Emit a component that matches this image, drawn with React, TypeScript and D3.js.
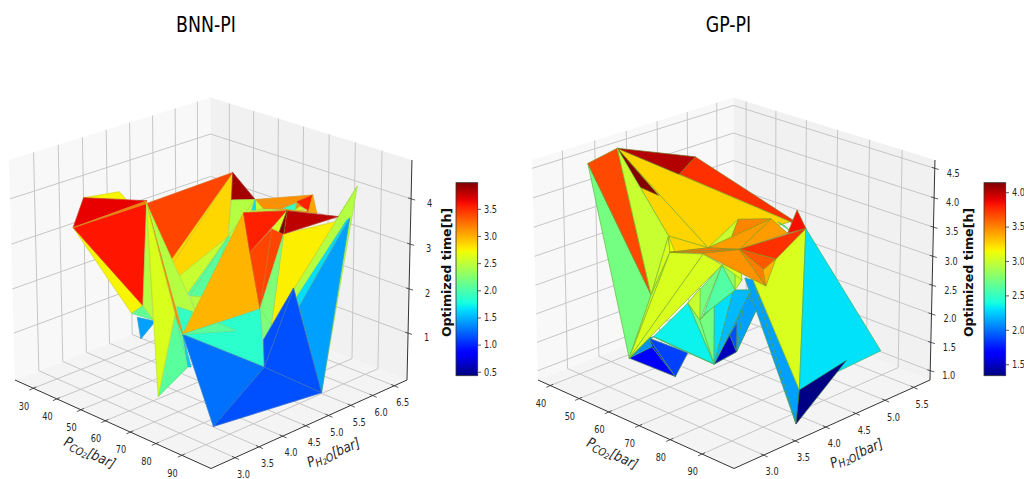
import React from "react";
import * as d3 from "d3";

// BNN-PI surface vertices
const bnnX=[37.9,25.0,7.0,13.3,35.9,42.8,50.5,53.5,65.6,73.2,34.3,70.7,64.4,53.6,66.1,47.8,63.4,65.2,76.0,83.3,58.1,90.2,96.7,108.9,110.7,61.9,90.3,82.2,87.2,92.1,76.7,90.7,66.1,50.1,55.0,55.7,62.2,59.6,55.1,42.3,31.7,30.9,62.7,68.4,65.8,53.9,57.2,42.6,33.8,34.2,75.6,91.2,80.1,60.5,87.8,78.3,72.0,97.8,54.3,46.9,49.8,73.7,74.8,90.7,84.3,84.6,91.3,66.3,71.9,68.4,55.4,59.0];
const bnnY=[3.01,3.86,5.52,5.35,4.64,6.17,6.25,5.55,2.79,2.63,4.73,3.01,3.68,5.47,3.92,5.88,4.11,4.40,3.54,2.90,5.56,4.12,3.85,2.13,4.26,6.49,4.19,3.69,3.78,1.94,3.09,2.61,3.20,3.69,3.51,3.78,6.90,6.76,6.51,6.89,7.32,7.28,6.50,6.63,6.59,7.09,7.06,7.64,8.18,7.83,5.53,5.75,5.20,6.07,4.66,4.57,6.85,3.93,8.44,8.72,8.47,5.88,5.87,4.60,2.73,2.89,2.64,3.68,3.71,2.92,5.63,3.07];
const bnnZ=[3.5,3.6,2.8,2.8,3.4,3.7,3.2,3.5,2.3,2.7,3.4,3.0,2.6,2.7,2.3,2.4,2.1,2.0,2.3,2.2,3.3,2.4,1.4,1.2,1.0,1.3,1.7,2.1,2.0,1.5,2.4,1.8,2.0,1.5,1.2,1.5,3.3,3.0,3.0,2.6,2.2,2.2,3.3,3.1,3.1,2.8,2.8,2.3,2.1,2.1,3.7,3.8,3.4,2.8,3.8,3.2,2.9,2.3,2.8,1.8,1.9,1.6,1.4,2.3,2.6,1.9,1.8,2.1,2.1,2.47,2.6,2.6];
const bnnTriangles=[[5,71,69],[5,69,13],[1,2,3],[0,8,9],[33,34,35],[8,9,32],[0,1,10],[0,4,9],[0,10,4],[4,5,11],[6,5,7],[39,37,50],[39,40,50],[40,50,20],[47,44,50],[44,43,50],[6,36,37],[6,37,39],[7,6,13],[6,13,70],[6,39,40],[6,40,41],[36,42,44],[36,43,44],[45,46,47],[48,47,49],[13,14,16],[13,12,14],[13,16,17],[13,17,15],[16,17,18],[4,19,18],[67,68,19],[30,19,31],[4,19,64],[30,31,29],[4,9,32],[4,30,29],[19,31,66],[20,19,21],[20,50,55],[55,53,21],[53,52,21],[51,56,58],[58,56,63],[58,63,24],[60,61,62],[60,62,59],[59,62,24],[52,56,57],[50,51,52],[50,53,52],[50,54,52],[52,21,57],[21,57,26],[19,21,22],[19,22,23],[25,24,22],[25,26,22],[22,24,23],[19,27,28]];
const bnnFacets=[2.86,2.86,2.75,2.75,1.44,2.1,3.67,3.59,3.2,3.41,3.88,3.13,2.54,2.54,3.05,3.05,3.13,3.13,2.46,2.46,2.54,1.66,3.55,3.05,2.6,1.9,2.07,2.54,2.07,2.07,2.46,2.46,1.9,2.07,3.15,2.07,2.46,2.62,1.6,2.99,3.55,3.41,3.41,2.46,2.46,2.46,1.66,1.66,1.44,2.77,3.8,2.6,3.99,2.23,2.23,1.86,1.27,1.16,1.16,1.16,2.07];

// GP-PI surface vertices
const gpX=[6.1,24.0,27.1,39.1,49.0,41.5,64.7,78.1,48.0,55.7,65.0,62.3,67.4,76.5,78.3,87.7,83.1,69.5,66.4,71.8,61.1,61.9,82.2,71.9,60.9,61.6,69.4,73.7,66.6,65.4,69.6,67.5,70.4,71.9,65.7,62.4,62.8,74.2,68.7,69.6,73.8,66.4,69.7,74.2,76.0,113.3,101.2,90.8,103.6,66.5,60.6,62.1,62.7,51.9,65.8,64.4,80.7,83.5,58.8,66.0];
const gpY=[4.71,4.39,5.55,4.69,3.88,3.92,5.54,4.67,4.08,3.73,3.89,4.52,4.80,4.60,3.72,3.66,4.06,4.04,3.72,4.89,3.17,2.78,3.12,3.02,3.18,3.10,3.14,3.13,2.94,3.54,3.88,4.20,3.54,3.41,3.95,4.43,4.70,3.88,4.05,4.12,4.24,4.42,4.09,3.97,4.06,2.84,4.83,4.83,3.31,4.41,3.20,2.94,5.29,5.73,5.21,3.84,3.98,3.86,3.66,3.71];
const gpZ=[3.3,4.0,3.5,3.7,3.8,3.8,2.9,3.8,3.0,3.0,3.2,3.4,3.4,3.4,3.5,3.1,3.3,3.4,3.2,3.4,2.6,1.7,1.9,1.5,1.7,1.9,1.9,1.9,2.1,2.4,3.0,2.4,2.3,2.3,2.2,2.2,2.1,1.6,1.7,1.9,2.2,2.2,2.8,2.8,2.8,2.3,1.8,1.4,1.3,2.5,2.3,2.1,3.0,2.7,3.0,3.1,3.1,3.2,3.1,2.6];
const gpTriangles=[[0,21,20],[0,1,20],[2,6,3],[1,8,10],[1,10,19],[1,2,3],[1,4,5],[1,8,20],[8,9,20],[9,20,21],[21,23,24],[24,25,23],[25,27,23],[21,25,24],[21,25,28],[22,36,37],[37,40,36],[37,40,41],[37,39,41],[22,37,38],[37,38,39],[49,44,48],[44,45,48],[29,22,33],[33,34,22],[28,29,22],[28,22,26],[22,34,35],[22,35,36],[32,33,34],[32,34,35],[32,35,31],[30,31,32],[30,42,31],[42,43,31],[29,30,33],[29,59,33],[21,50,51],[21,9,55],[21,55,30],[30,14,43],[6,15,44],[6,44,45],[6,45,46],[45,47,48],[8,10,9],[8,9,58],[11,17,10],[11,12,17],[12,13,14],[12,14,10],[53,52,54],[7,6,13],[9,10,14],[6,16,14],[14,15,18],[9,14,18],[14,57,15],[14,16,57],[16,15,56]];
const gpFacets=[2.72,3.68,3.75,3.26,3.26,4.02,4.14,3.0,3.06,3.0,1.65,1.8,1.87,2.09,2.09,2.13,2.13,2.13,2.13,1.49,1.91,2.13,2.13,2.72,2.72,2.36,2.36,2.3,2.2,2.72,2.6,2.6,2.6,2.8,3.0,2.72,3.0,2.36,3.06,3.06,3.06,3.06,3.06,2.31,1.35,3.26,3.15,3.0,3.5,3.43,3.43,2.53,3.85,3.55,3.75,3.46,3.55,3.52,3.63,3.36];

const bnnXTicks=[30,40,50,60,70,80,90], bnnYTicks=[3,3.5,4,4.5,5,5.5,6,6.5], bnnZTicks=[1,2,3,4], bnnBarTicks=[.5,1,1.5,2,2.5,3,3.5];
const gpXTicks=[40,50,60,70,80,90], gpYTicks=[3,3.5,4,4.5,5,5.5], gpZTicks=[1,1.5,2,2.5,3,3.5,4,4.5], gpBarTicks=[1.5,2,2.5,3,3.5,4];

const jetR = d3.scaleLinear<number>().domain([0,.35,.66,.89,1]).range([0,0,1,1,.5]).clamp(true);
const jetG = d3.scaleLinear<number>().domain([0,.125,.375,.64,.91,1]).range([0,0,1,1,0,0]).clamp(true);
const jetB = d3.scaleLinear<number>().domain([0,.11,.34,.65,1]).range([.5,1,1,0,0]).clamp(true);
const jet = (t:number)=>`rgb(${Math.round(255*jetR(t))},${Math.round(255*jetG(t))},${Math.round(255*jetB(t))})`;

const SQ=.82;
const k=.075,dw=-.0272,x0=15,y0=380,x1=180.2,x2=211.8,x3=-6.245,y1=433.4-380+(468.5*.925-433.4),y2=-y1,y3=-224.35;
function proj(u:number,v:number,w:number,dx:number):[number,number]{
  const D=1-k*u+k*v+dw*w;
  return [(x0+x1*u+x2*v+x3*w)/D+dx,(y0+y1*u+y2*v+y3*w)/D];
}

type P={title:string,tcx:number,dx:number,xD:number[],yD:number[],zD:number[],xT:number[],yT:number[],zT:number[],zFmt:(n:number)=>string,X:number[],Y:number[],Z:number[],T:number[][],F:number[],cD:number[],cT:number[],cbX:number,cbLx:number,edge:string,edgeMix:number,id:string,xl:number[],yl:number[]};
const panels:P[]=[
{title:"BNN-PI",tcx:206,dx:0,xD:[22.1,101],yD:[2.51,6.80],zD:[-.07,4.85],xT:bnnXTicks,yT:bnnYTicks,zT:bnnZTicks,zFmt:d3.format("d"),X:bnnX,Y:bnnY,Z:bnnZ,T:bnnTriangles,F:bnnFacets,cD:[.437,3.99],cT:bnnBarTicks,cbX:456,cbLx:447.5,edge:"#8fa060",edgeMix:.35,id:"a",xl:[90,452.3],yl:[333.3,452.3]},
{title:"GP-PI",tcx:728.5,dx:523,xD:[35.7,99.8],yD:[2.54,5.79],zD:[.835,4.64],xT:gpXTicks,yT:gpYTicks,zT:gpZTicks,zFmt:d3.format(".1f"),X:gpX,Y:gpY,Z:gpZ,T:gpTriangles,F:gpFacets,cD:[1.34,4.145],cT:gpBarTicks,cbX:984,cbLx:969.5,edge:"#5f9f30",edgeMix:.7,id:"b",xl:[612.7,453],yl:[856.3,453]},
];
const Txt=({x,y,s,size=10,color="#262626",anchor="middle",sq=SQ}:any)=>(
  <text transform={`translate(${x},${y}) scale(${sq},1)`} fontFamily="DejaVu Sans" fontSize={size} fill={color} textAnchor={anchor} dominantBaseline="central">{s}</text>);
const line=d3.line();
function Panel({p}:{p:P}){
  const dx=p.dx;
  const P3=(u:number,v:number,w:number)=>proj(u,v,w,dx);
  const U=d3.scaleLinear().domain(p.xD).range([0,1]),V=d3.scaleLinear().domain(p.yD).range([0,1]),W=d3.scaleLinear().domain(p.zD).range([0,1]);
  const poly=(pts:[number,number][])=>line(pts)+"Z";
  const C=d3.scaleLinear().domain(p.cD).range([0,1]);
  const cy=d3.scaleLinear().domain(p.cD).range([375.7,182.7]);
  const gc="#c6c6c6";
  const verts=p.X.map((x,i)=>P3(U(x),V(p.Y[i]),W(p.Z[i])));
  return <g>
    <Txt x={p.tcx} y={25} s={p.title} size={22} color="#000" sq={.79}/>
    <path d={poly([P3(0,0,0),P3(0,1,0),P3(0,1,1),P3(0,0,1)])} fill="#f8f8f8"/>
    <path d={poly([P3(0,1,0),P3(1,1,0),P3(1,1,1),P3(0,1,1)])} fill="#f1f1f1"/>
    <path d={poly([P3(0,0,0),P3(1,0,0),P3(1,1,0),P3(0,1,0)])} fill="#f4f4f4"/>
    {p.xT.map(t=><path key={"gx"+t} d={line([P3(U(t),0,0),P3(U(t),1,0),P3(U(t),1,1)])!} fill="none" stroke={gc} strokeWidth={1}/>)}
    {p.yT.map(t=><path key={"gy"+t} d={line([P3(1,V(t),0),P3(0,V(t),0),P3(0,V(t),1)])!} fill="none" stroke={gc} strokeWidth={1}/>)}
    {p.zT.map(t=><path key={"gz"+t} d={line([P3(0,0,W(t)),P3(0,1,W(t)),P3(1,1,W(t))])!} fill="none" stroke={gc} strokeWidth={1}/>)}
    {p.T.map((t,i)=>{const fill=jet(C(p.F[i]));return <path key={i} d={poly([verts[t[0]],verts[t[1]],verts[t[2]]])} fill={fill} stroke={d3.interpolateRgb(fill,p.edge)(p.edgeMix)} strokeWidth={.75} strokeLinejoin="round"/>;})}
    <path d={line([P3(0,0,0),P3(1,0,0),P3(1,1,0),P3(1,1,1)])!} fill="none" stroke="#333" strokeWidth={1}/>
    {p.xT.map(t=>{const [a,b]=P3(U(t),0,0);return <g key={"tx"+t}><line x1={a+3} y1={b-1.3} x2={a-4} y2={b+1.8} stroke="#333" strokeWidth={.8}/><Txt x={a-9.3} y={b+18} s={String(t)}/></g>;})}
    {p.yT.map(t=>{const [a,b]=P3(1,V(t),0);return <g key={"ty"+t}><line x1={a-3} y1={b-1.3} x2={a+4} y2={b+1.8} stroke="#333" strokeWidth={.8}/><Txt x={a+8.4} y={b+17} s={d3.format(".1f")(t)}/></g>;})}
    {p.zT.map(t=>{const [a,b]=P3(1,1,W(t));return <g key={"tz"+t}><line x1={a-3} y1={b-1} x2={a+4} y2={b+1.2} stroke="#333" strokeWidth={.8}/><Txt x={a+18.5} y={b+5} s={p.zFmt(t)}/></g>;})}
    <text transform={`translate(${p.xl[0]},${p.xl[1]}) rotate(25) scale(.86,1)`} fontFamily="DejaVu Sans" fontSize={14} fontStyle="italic" fill="#262626" textAnchor="middle" dominantBaseline="central">P<tspan fontSize={11} dy={3}>CO</tspan><tspan fontSize={8} dy={2}>2</tspan><tspan dy={-5}>[bar]</tspan></text>
    <text transform={`translate(${p.yl[0]},${p.yl[1]}) rotate(-23) scale(.86,1)`} fontFamily="DejaVu Sans" fontSize={14} fontStyle="italic" fill="#262626" textAnchor="middle" dominantBaseline="central">P<tspan fontSize={11} dy={3}>H</tspan><tspan fontSize={8} dy={2}>2</tspan><tspan fontSize={11} dy={-2}>O</tspan><tspan dy={-3}>[bar]</tspan></text>
    <defs><linearGradient id={"cb"+p.id} x1="0" y1="1" x2="0" y2="0">{d3.range(0,1.001,.02).map(t=><stop key={t} offset={t} stopColor={jet(t)}/>)}</linearGradient></defs>
    <rect x={p.cbX} y={182.7} width={21.7} height={193} fill={`url(#cb${p.id})`} stroke="#333" strokeWidth={.8}/>
    {p.cT.map(t=><g key={"c"+t}><line x1={p.cbX+21.7} x2={p.cbX+25} y1={cy(t)} y2={cy(t)} stroke="#333" strokeWidth={.8}/><Txt x={p.cbX+28} y={cy(t)} s={d3.format(".1f")(t)} anchor="start"/></g>)}
    <text transform={`translate(${p.cbLx},272.5) scale(.96,1) rotate(-90)`} fontFamily="DejaVu Sans" fontSize={12.6} fontWeight="bold" fill="#111" textAnchor="middle" dominantBaseline="central">Optimized time[h]</text>
  </g>;
}
export default function App(){
  return <svg width={1024} height={479} style={{position:"fixed",left:0,top:0,display:"block"}}>
    <rect width={1024} height={479} fill="#fff"/>
    {panels.map(p=><Panel key={p.id} p={p}/>)}
  </svg>;
}
